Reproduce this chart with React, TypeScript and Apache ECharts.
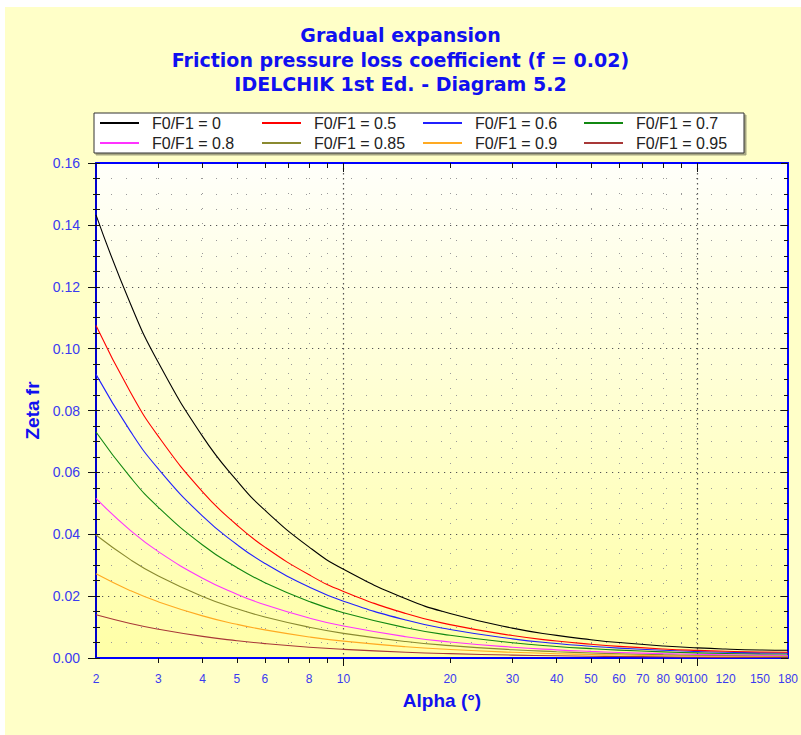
import React, { useEffect, useRef } from "react";
import * as echarts from "echarts";

const alpha = [2, 2.5, 3, 4, 5, 6, 8, 10, 15, 20, 30, 40, 50, 60, 80, 100, 120, 150, 180];

const seriesNames = [
  "F0/F1 = 0", "F0/F1 = 0.5", "F0/F1 = 0.6", "F0/F1 = 0.7",
  "F0/F1 = 0.8", "F0/F1 = 0.85", "F0/F1 = 0.9", "F0/F1 = 0.95",
];
const seriesColors = ["#000000", "#FF0000", "#2020FF", "#118811", "#FF33FF", "#8A8A30", "#FFAA22", "#A83838"];

const zeta_0 = [0.14325, 0.11460, 0.09550, 0.07163, 0.05731, 0.04777, 0.03584, 0.02868, 0.01915, 0.01440, 0.00966, 0.00731, 0.00592, 0.00500, 0.00389, 0.00326, 0.00289, 0.00259, 0.00250];
const zeta_05 = [0.10744, 0.08595, 0.07163, 0.05372, 0.04298, 0.03583, 0.02688, 0.02151, 0.01436, 0.01080, 0.00725, 0.00548, 0.00444, 0.00375, 0.00292, 0.00245, 0.00217, 0.00194, 0.00188];
const zeta_06 = [0.09168, 0.07334, 0.06112, 0.04584, 0.03668, 0.03057, 0.02294, 0.01836, 0.01226, 0.00922, 0.00618, 0.00468, 0.00379, 0.00320, 0.00249, 0.00209, 0.00185, 0.00166, 0.00160];
const zeta_07 = [0.07306, 0.05845, 0.04871, 0.03653, 0.02923, 0.02436, 0.01828, 0.01463, 0.00977, 0.00734, 0.00493, 0.00373, 0.00302, 0.00255, 0.00198, 0.00166, 0.00147, 0.00132, 0.00128];
const zeta_08 = [0.05157, 0.04126, 0.03438, 0.02579, 0.02063, 0.01720, 0.01290, 0.01032, 0.00689, 0.00518, 0.00348, 0.00263, 0.00213, 0.00180, 0.00140, 0.00117, 0.00104, 0.00093, 0.00090];
const zeta_085 = [0.03975, 0.03180, 0.02650, 0.01988, 0.01590, 0.01326, 0.00995, 0.00796, 0.00531, 0.00400, 0.00268, 0.00203, 0.00164, 0.00139, 0.00108, 0.00090, 0.00080, 0.00072, 0.00069];
const zeta_09 = [0.02722, 0.02177, 0.01815, 0.01361, 0.01089, 0.00908, 0.00681, 0.00545, 0.00364, 0.00274, 0.00184, 0.00139, 0.00112, 0.00095, 0.00074, 0.00062, 0.00055, 0.00049, 0.00048];
const zeta_095 = [0.01397, 0.01117, 0.00931, 0.00698, 0.00559, 0.00466, 0.00349, 0.00280, 0.00187, 0.00140, 0.00094, 0.00071, 0.00058, 0.00049, 0.00038, 0.00032, 0.00028, 0.00025, 0.00024];
const seriesValues = [zeta_0, zeta_05, zeta_06, zeta_07, zeta_08, zeta_085, zeta_09, zeta_095];

const xLabelValues = [2, 3, 4, 5, 6, 8, 10, 20, 30, 40, 50, 60, 70, 80, 90, 100, 120, 150, 180];
const xMinorTicks = [3, 4, 5, 6, 7, 8, 9, 20, 30, 40, 50, 60, 70, 80, 90];
const xMajorTicks = [10, 100];
const xRange = [2, 180];
const yRange = [0, 0.16];
const yStep = 0.02;

const titleLines = ["Gradual expansion", "Friction pressure loss coefficient (f = 0.02)", "IDELCHIK 1st Ed. - Diagram 5.2"];
const xName = "Alpha (°)";
const yName = "Zeta fr";

const BLUE = "#0000FF";
const LABEL_BLUE = "#3A3AF0";
const SANS = '"Liberation Sans", Arial, sans-serif';
const lg = (v: number) => Math.log10(v);

export default function App() {
  const ref = useRef<HTMLDivElement>(null);
  useEffect(() => {
    if (!ref.current) return;
    const chart = echarts.init(ref.current, null, { renderer: "svg" });
    const xmin = lg(xRange[0]);
    const xmax = lg(xRange[1]);
    const baseX = { type: "value", min: xmin, max: xmax, gridIndex: 0 };
    const baseY = { type: "value", min: yRange[0], max: yRange[1], interval: yStep, gridIndex: 0 };
    const legendCols = [100, 262, 423, 584];

    const option: any = {
      animation: false,
      backgroundColor: "transparent",
      textStyle: { fontFamily: SANS },
      title: {
        text: titleLines.join("\n"),
        left: "center",
        top: 18,
        padding: [5, 5, 5, 13],
        textStyle: {
          fontFamily: '"DejaVu Sans", Verdana, sans-serif',
          fontSize: 19,
          fontWeight: "bold",
          color: "#1010F0",
          lineHeight: 24.5,
        },
      },
      graphic: [
        {
          type: "rect",
          z: 0,
          shape: { x: 94, y: 113, width: 650, height: 40 },
          style: {
            fill: "#FFFFFF",
            stroke: "#333333",
            lineWidth: 1,
            shadowColor: "rgba(0,0,0,0.35)",
            shadowOffsetX: 2,
            shadowOffsetY: 2,
            shadowBlur: 1,
          },
        },
      ],
      legend: legendCols.map((x, i) => ({
        left: x,
        top: 114,
        orient: "vertical",
        padding: 0,
        itemGap: 2,
        itemWidth: 39,
        itemHeight: 2,
        icon: "rect",
        z: 5,
        data: [seriesNames[i], seriesNames[i + 4]],
        textStyle: {
          fontFamily: SANS,
          fontSize: 16,
          color: "#222222",
          lineHeight: 18,
          padding: [0, 0, 0, 8],
        },
      })),
      grid: {
        left: 96,
        top: 163,
        right: 9,
        bottom: 77,
        show: true,
        borderWidth: 0,
        backgroundColor: {
          type: "linear",
          x: 0, y: 0, x2: 0, y2: 1,
          colorStops: [
            { offset: 0, color: "#FFFFFA" },
            { offset: 1, color: "#FFFFA6" },
          ],
        },
      },
      xAxis: [
        {
          ...baseX,
          position: "bottom",
          name: xName,
          nameLocation: "middle",
          nameGap: 33,
          nameTextStyle: { fontFamily: SANS, fontSize: 19, fontWeight: "bold", color: "#1010F0" },
          axisLine: { show: true, onZero: false, lineStyle: { color: BLUE, width: 2 } },
          axisTick: { show: true, customValues: xMinorTicks.map(lg), length: 5, lineStyle: { color: "#111" } },
          axisLabel: {
            customValues: xLabelValues.map(lg),
            formatter: (v: number) => String(Math.round(Math.pow(10, v))),
            color: LABEL_BLUE,
            fontSize: 12,
            margin: 15,
            hideOverlap: false,
          },
          splitLine: { show: true, lineStyle: { color: "#9a9a9a", width: 1, type: [1, 14] } },
        },
        {
          ...baseX,
          position: "bottom",
          axisLine: { show: false, onZero: false },
          axisTick: { show: true, customValues: xMajorTicks.map(lg), length: 8, lineStyle: { color: "#111" } },
          axisLabel: { show: false },
          splitLine: { show: true, lineStyle: { color: "#555", width: 1.2, type: [1.5, 3.5] } },
        },
        {
          ...baseX,
          position: "top",
          axisLine: { show: true, onZero: false, lineStyle: { color: BLUE, width: 2 } },
          axisTick: { show: true, inside: true, customValues: xMinorTicks.map(lg), length: 5, lineStyle: { color: "#111" } },
          axisLabel: { show: false },
          splitLine: { show: false },
        },
        {
          ...baseX,
          position: "top",
          axisLine: { show: false, onZero: false },
          axisTick: { show: true, inside: true, customValues: xMajorTicks.map(lg), length: 9, lineStyle: { color: "#111" } },
          axisLabel: { show: false },
          splitLine: { show: false },
        },
      ],
      yAxis: [
        {
          ...baseY,
          position: "left",
          name: yName,
          nameLocation: "middle",
          nameGap: 54,
          nameTextStyle: { fontFamily: SANS, fontSize: 19, fontWeight: "bold", color: "#1010F0" },
          axisLine: { show: true, onZero: false, lineStyle: { color: "#0000CC", width: 2 } },
          axisTick: { show: true, length: 8, lineStyle: { color: "#111" } },
          minorTick: { show: true, splitNumber: 4, length: 3, lineStyle: { color: "#111" } },
          axisLabel: {
            formatter: (v: number) => v.toFixed(2),
            color: LABEL_BLUE,
            fontSize: 14,
            margin: 16,
          },
          splitLine: { show: true, lineStyle: { color: "#555", width: 1.2, type: [1.2, 4.8] } },
          minorSplitLine: { show: true, lineStyle: { color: "#9a9a9a", width: 1, type: [1, 14] } },
        },
        {
          ...baseY,
          position: "left",
          axisLine: { show: false, onZero: false },
          axisTick: { show: true, inside: true, length: 4, lineStyle: { color: "#111" } },
          minorTick: { show: true, splitNumber: 4, length: 4, lineStyle: { color: "#111" } },
          axisLabel: { show: false },
          splitLine: { show: false },
        },
        {
          ...baseY,
          position: "right",
          axisLine: { show: true, onZero: false, lineStyle: { color: BLUE, width: 2 } },
          axisTick: { show: true, inside: true, length: 7, lineStyle: { color: "#111" } },
          minorTick: { show: true, splitNumber: 4, length: 4, lineStyle: { color: "#111" } },
          axisLabel: { show: false },
          splitLine: { show: false },
        },
      ],
      series: seriesValues.map((vals, i) => ({
        type: "line",
        name: seriesNames[i],
        xAxisIndex: 0,
        yAxisIndex: 0,
        data: alpha.map((a, j) => [lg(a), vals[j]]),
        showSymbol: false,
        smooth: 0.5,
        color: seriesColors[i],
        lineStyle: { color: seriesColors[i], width: 1.1 },
        z: 3 + (8 - i) * 0.01,
      })),
    };
    chart.setOption(option);
    return () => chart.dispose();
  }, []);

  return (
    <div
      style={{
        position: "absolute",
        left: 0,
        top: 0,
        width: 801,
        height: 735,
        backgroundColor: "#FFFFFF",
        backgroundImage: "linear-gradient(#FFFFC8, #FFFFC8)",
        backgroundPosition: "5px 7px",
        backgroundSize: "796px 728px",
        backgroundRepeat: "no-repeat",
      }}
    >
      <div ref={ref} style={{ width: 801, height: 735 }} />
    </div>
  );
}
